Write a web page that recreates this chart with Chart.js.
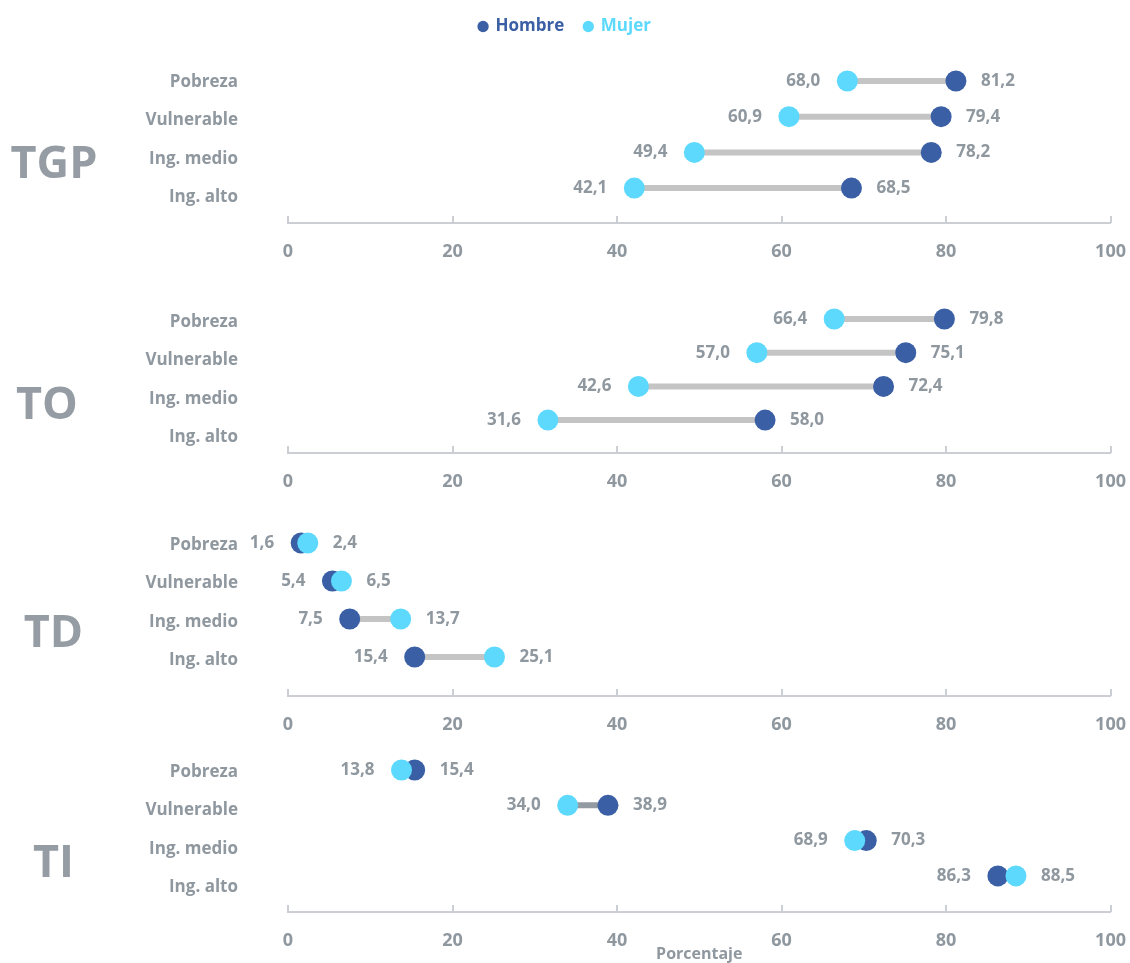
<!DOCTYPE html>
<html lang="es">
<head>
<meta charset="utf-8">
<script src="https://cdn.jsdelivr.net/npm/chart.js@4.4.1/dist/chart.umd.min.js"></script>
<style>
  html, body { margin: 0; padding: 0; background: #fff; }
  body { width: 1130px; height: 963px; position: relative; overflow: hidden; }
  .panel { position: absolute; left: 0; width: 1130px; }
  .panel canvas { display: block; }
  .panel-title {
    position: absolute;
    transform: translateX(-50%);
    font: 700 45px/1 "Open Sans", sans-serif;
    color: #959ca3;
    white-space: nowrap;
  }
</style>
</head>
<body>
<script>
// data
const categories = ["Pobreza", "Vulnerable", "Ing. medio", "Ing. alto"];
const panelNames = ["TGP", "TO", "TD", "TI"];
const xTicks = [0, 20, 40, 60, 80, 100];

const hombreTGP = [81.2, 79.4, 78.2, 68.5];
const mujerTGP = [68.0, 60.9, 49.4, 42.1];
const hombreTO = [79.8, 75.1, 72.4, 58.0];
const mujerTO = [66.4, 57.0, 42.6, 31.6];
const hombreTD = [1.6, 5.4, 7.5, 15.4];
const mujerTD = [2.4, 6.5, 13.7, 25.1];
const hombreTI = [15.4, 38.9, 70.3, 86.3];
const mujerTI = [13.8, 34.0, 68.9, 88.5];

const hombreSeries = [hombreTGP, hombreTO, hombreTD, hombreTI];
const mujerSeries = [mujerTGP, mujerTO, mujerTD, mujerTI];

// look
const HOMBRE = "#3a5fa5";
const MUJER = "#5cd9fd";
const TEXT = "#8f979f";
const AXIS = "#cbcfd3";
const FONT = "'Open Sans', sans-serif";

// where each panel sits on the page (pixels)
const panelLayout = [
  { titleX: 54, titleY: 162, labelTop: 82, dotTop: 81, dotStep: 35.7, axisY: 223, lineColor: "#c4c4c4" },
  { titleX: 47, titleY: 403, labelTop: 322, dotTop: 319, dotStep: 33.7, axisY: 453, lineColor: "#c4c4c4" },
  { titleX: 53.5, titleY: 631, labelTop: 545, dotTop: 543, dotStep: 38, axisY: 696, lineColor: "#c4c4c4" },
  { titleX: 53.5, titleY: 861, labelTop: 772, dotTop: 770, dotStep: 35.3, axisY: 912, lineColor: "#939aa1" },
];
const labelStep = 38.33;

Chart.defaults.font.family = FONT;
Chart.defaults.font.weight = "bold";
Chart.defaults.color = TEXT;

const fmt = (v) => v.toFixed(1).replace(".", ",");

const tickMarks = {
  id: "tickMarks",
  afterDraw(chart) {
    const { ctx, chartArea } = chart;
    const x = chart.scales.x;
    ctx.save();
    ctx.strokeStyle = AXIS;
    ctx.lineWidth = 2;
    x.ticks.forEach((t) => {
      const px = Math.round(x.getPixelForValue(t.value));
      ctx.beginPath();
      ctx.moveTo(px, chartArea.bottom - 7);
      ctx.lineTo(px, chartArea.bottom);
      ctx.stroke();
    });
    ctx.restore();
  },
};

const valueLabels = {
  id: "valueLabels",
  afterDatasetsDraw(chart) {
    const { ctx } = chart;
    const hMeta = chart.getDatasetMeta(0);
    const mMeta = chart.getDatasetMeta(1);
    const hData = chart.data.datasets[0].data;
    const mData = chart.data.datasets[1].data;
    ctx.save();
    ctx.font = "bold 17px " + FONT;
    ctx.fillStyle = TEXT;
    ctx.textBaseline = "middle";
    hMeta.data.forEach((hp, i) => {
      const mp = mMeta.data[i];
      const h = hData[i].x;
      const m = mData[i].x;
      const lo = h <= m ? { p: hp, v: h } : { p: mp, v: m };
      const hi = h <= m ? { p: mp, v: m } : { p: hp, v: h };
      ctx.textAlign = "right";
      ctx.fillText(fmt(lo.v), lo.p.x - 27, lo.p.y);
      ctx.textAlign = "left";
      ctx.fillText(fmt(hi.v), hi.p.x + 25, hi.p.y);
    });
    ctx.restore();
  },
};

function buildPanel(p) {
  const lay = panelLayout[p];
  const hasLegend = p === 0;
  const isLast = p === panelNames.length - 1;
  const xHeight = isLast ? 52 : 48;

  let top, padTop, chartTop;
  if (hasLegend) {
    top = -2;
    padTop = 0;
    chartTop = top + 47;
  } else {
    chartTop = lay.labelTop - 30;
    top = chartTop - 20;
    padTop = 20;
  }
  const height = lay.axisY + xHeight - top;

  const wrap = document.createElement("div");
  wrap.className = "panel";
  wrap.style.top = top + "px";
  wrap.style.height = height + "px";
  const canvas = document.createElement("canvas");
  canvas.width = 1130;
  canvas.height = height;
  wrap.appendChild(canvas);
  document.body.appendChild(wrap);

  const title = document.createElement("div");
  title.className = "panel-title";
  title.textContent = panelNames[p];
  title.style.left = lay.titleX + "px";
  title.style.top = (lay.titleY - 24) + "px";
  document.body.appendChild(title);

  const areaH = lay.axisY - chartTop;
  const labelMin = -(lay.labelTop - chartTop) / labelStep;
  const dotMin = -(lay.dotTop - chartTop) / lay.dotStep;

  const hombre = hombreSeries[p];
  const mujer = mujerSeries[p];

  const connectors = categories.map((c, i) => ({
    label: c,
    data: [{ x: hombre[i], y: i }, { x: mujer[i], y: i }],
    showLine: true,
    borderColor: lay.lineColor,
    borderWidth: 6,
    borderCapStyle: "butt",
    pointRadius: 0,
    yAxisID: "yd",
    order: 2,
    clip: false,
  }));

  new Chart(canvas, {
    type: "scatter",
    data: {
      datasets: [
        {
          label: "Hombre",
          data: hombre.map((v, i) => ({ x: v, y: i })),
          backgroundColor: HOMBRE,
          borderWidth: 0,
          pointRadius: 10.5,
          pointStyle: "circle",
          yAxisID: "yd",
          order: 1,
          clip: false,
        },
        {
          label: "Mujer",
          data: mujer.map((v, i) => ({ x: v, y: i })),
          backgroundColor: MUJER,
          borderWidth: 0,
          pointRadius: 10.5,
          pointStyle: "circle",
          yAxisID: "yd",
          order: 0,
          clip: false,
        },
        ...connectors,
      ],
    },
    options: {
      responsive: false,
      animation: false,
      events: [],
      layout: { padding: { top: padTop, right: 0, bottom: 0, left: 0 } },
      plugins: {
        tooltip: { enabled: false },
        legend: {
          display: hasLegend,
          position: "top",
          labels: {
            usePointStyle: true,
            boxWidth: 8,
            boxHeight: 8,
            padding: 20,
            font: { size: 17, weight: "bold", family: FONT },
            filter: (item) => item.datasetIndex < 2,
            sort: (a, b) => a.datasetIndex - b.datasetIndex,
            generateLabels(chart) {
              const items = Chart.defaults.plugins.legend.labels.generateLabels(chart);
              items.forEach((it) => {
                it.fontColor = chart.data.datasets[it.datasetIndex].backgroundColor;
              });
              return items;
            },
          },
        },
      },
      scales: {
        x: {
          type: "linear",
          min: 0,
          max: 100,
          afterBuildTicks: (scale) => { scale.ticks = xTicks.map((v) => ({ value: v })); },
          afterFit: (scale) => { scale.height = xHeight; },
          ticks: { padding: 4, font: { size: 18, weight: "bold" }, color: TEXT },
          grid: { display: true, drawOnChartArea: false, drawTicks: true, tickLength: 14, tickColor: "rgba(0,0,0,0)" },
          border: { display: true, color: AXIS, width: 2 },
          title: {
            display: isLast,
            text: "Porcentaje",
            color: TEXT,
            font: { size: 16, weight: "bold" },
            padding: 0,
          },
        },
        y: {
          type: "linear",
          position: "left",
          reverse: true,
          min: labelMin,
          max: labelMin + areaH / labelStep,
          afterBuildTicks: (scale) => { scale.ticks = categories.map((c, i) => ({ value: i })); },
          afterFit: (scale) => { scale.width = 288; },
          ticks: {
            padding: 4,
            font: { size: 17, weight: "bold" },
            color: TEXT,
            callback: (v) => categories[v],
          },
          grid: { display: true, drawOnChartArea: false, drawTicks: true, tickLength: 46, tickColor: "rgba(0,0,0,0)" },
          border: { display: false },
        },
        yd: {
          type: "linear",
          display: false,
          reverse: true,
          min: dotMin,
          max: dotMin + areaH / lay.dotStep,
        },
      },
    },
    plugins: [tickMarks, valueLabels],
  });
}

panelNames.forEach((name, p) => buildPanel(p));
</script>
</body>
</html>
